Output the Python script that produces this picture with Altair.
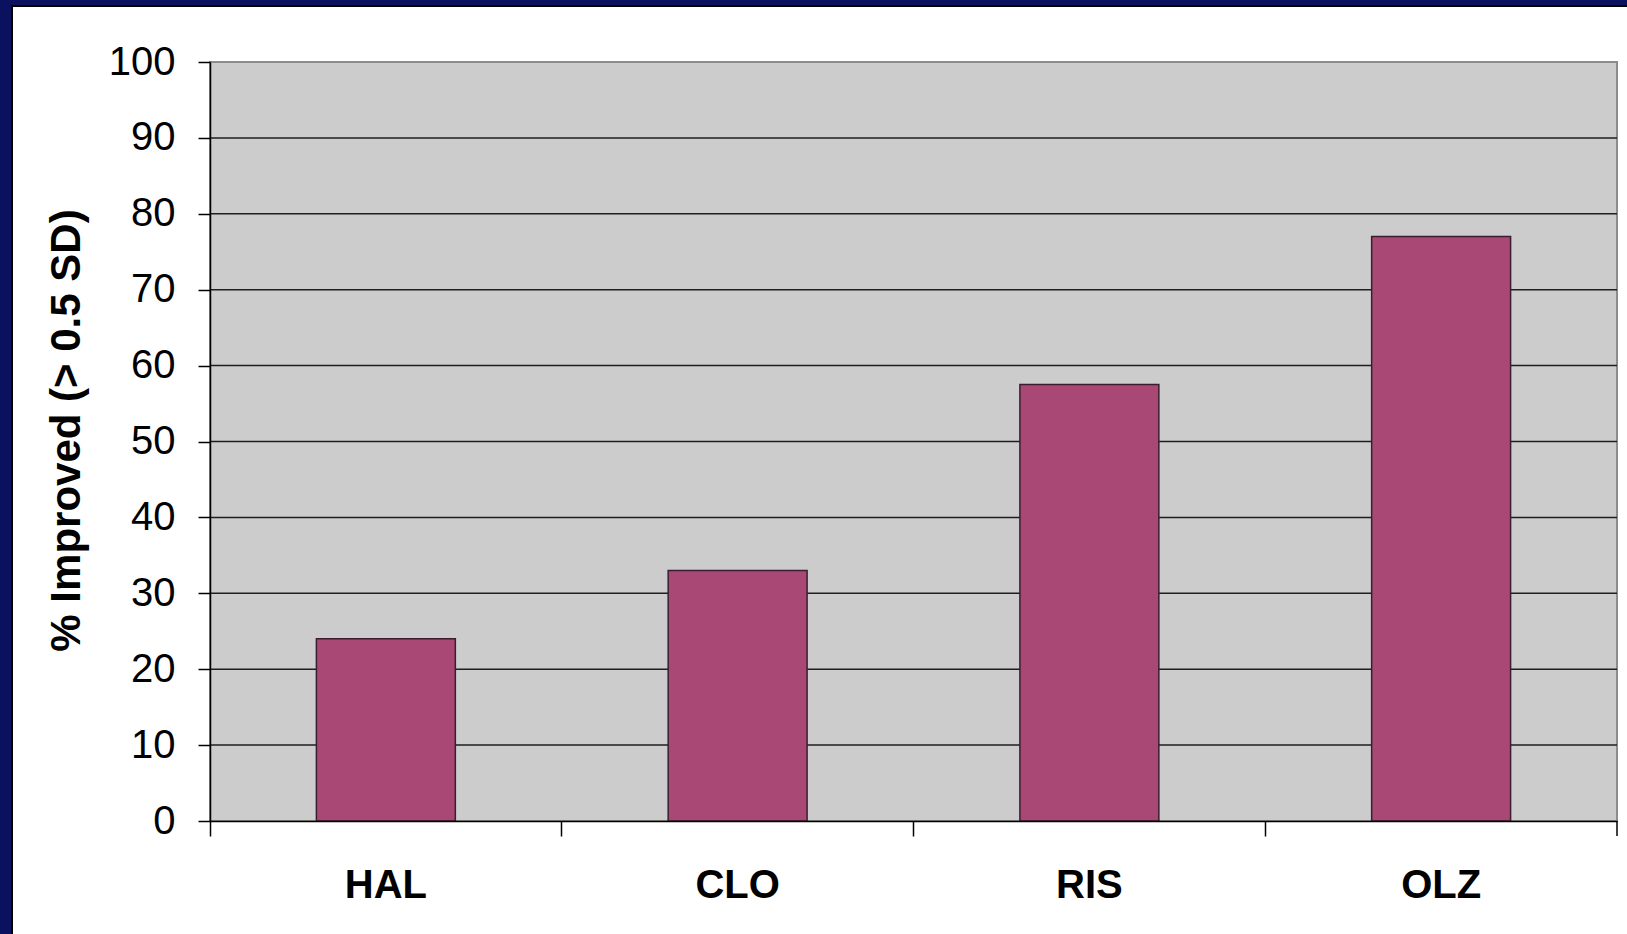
import altair as alt
import pandas as pd

# Data
drugs = ["HAL", "CLO", "RIS", "OLZ"]
pct_improved = [24, 33, 57.5, 77]
y_ticks = [0, 10, 20, 30, 40, 50, 60, 70, 80, 90, 100]
grid_values = [10, 20, 30, 40, 50, 60, 70, 80, 90]

W, H = 1407, 759
FONT = "Liberation Sans"

bars_df = pd.DataFrame({"drug": drugs, "value": pct_improved})
grid_df = pd.DataFrame({"value": grid_values})
one = alt.Data(values=[{}])

y_scale = alt.Scale(domain=[0, 100], nice=False)
x_scale = alt.Scale(domain=drugs, paddingInner=0, paddingOuter=0)

y_axis = alt.Axis(
    values=y_ticks,
    title="% Improved (> 0.5 SD)",
    titleFont=FONT,
    titleFontSize=42,
    titleFontWeight="bold",
    titleColor="black",
    titleAngle=270,
    titleBaseline="alphabetic",
    titleAlign="center",
    titleX=-131,
    titleY=368,
    labelFont=FONT,
    labelFontSize=40,
    labelColor="black",
    labelPadding=23,
    tickSize=12,
    tickColor="black",
    tickWidth=1.5,
    domainColor="black",
    domainWidth=1.5,
    grid=False,
    zindex=1,
)

x_axis = alt.Axis(
    title=None,
    labelAngle=0,
    labelFont=FONT,
    labelFontSize=40,
    labelFontWeight="bold",
    labelColor="black",
    labelBaseline="alphabetic",
    labelPadding=61,
    tickSize=15,
    tickColor="black",
    tickWidth=1.5,
    bandPosition=0,
    domainColor="black",
    domainWidth=1.5,
    grid=False,
    zindex=1,
)

# White slide panel with a black edge over the navy background
panel = alt.Chart(one).mark_rect(
    fill="white", stroke="black", strokeWidth=2
).encode(
    x=alt.value(-198), x2=alt.value(W + 30),
    y=alt.value(-56), y2=alt.value(H + 130),
)

# Grey plotting area
plot_bg = alt.Chart(one).mark_rect(
    fill="#CCCCCC", stroke="#8C8C8C", strokeWidth=2
).encode(
    x=alt.value(0), x2=alt.value(W),
    y=alt.value(0), y2=alt.value(H),
)

# Horizontal gridlines
grid = alt.Chart(grid_df).mark_rule(color="#1E1E1E", strokeWidth=1.5).encode(
    y=alt.Y("value:Q", scale=y_scale, axis=y_axis),
)

bars = alt.Chart(bars_df).mark_bar(
    width=alt.RelativeBandSize(0.395),
    color="#A94875",
    stroke="#3A1E2E",
    strokeWidth=1.5,
).encode(
    x=alt.X("drug:N", sort=drugs, scale=x_scale, axis=x_axis),
    y=alt.Y("value:Q", scale=y_scale, axis=y_axis),
)

# Closing tick at the right end of the category axis
end_tick = alt.Chart(one).mark_rule(color="black", strokeWidth=1.5).encode(
    x=alt.value(W), y=alt.value(H), y2=alt.value(H + 15),
)

chart = alt.layer(panel, plot_bg, grid, bars, end_tick).properties(
    width=W,
    height=H,
    autosize=alt.AutoSizeParams(type="none"),
    padding={"left": 210, "top": 62, "right": 10, "bottom": 113},
    background="#0A1260",
).configure_view(stroke=None)

chart.save("out.html", embed_options={"renderer": "svg", "actions": False})
